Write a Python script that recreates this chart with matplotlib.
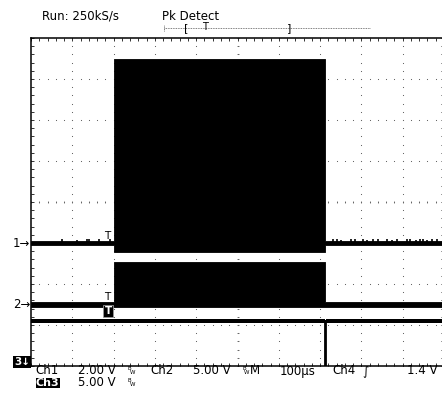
import numpy as np
import matplotlib
matplotlib.use('Agg')
import matplotlib.pyplot as plt
import matplotlib.transforms as mtrans

W, H = 442, 394

# scope settings
time_div = 100.0          # us / div
rec_len = 2000.0          # us, whole record
win_start = 212.0         # us, start of screen window in record
trig_t = 184.0            # us, trigger point on screen
ch1_vdiv, ch2_vdiv, ch3_vdiv = 2.0, 5.0, 5.0
ch1_pos, ch2_pos, ch3_pos = -1.0, -2.5, -4.1   # ground position, divisions

# peak-detect envelopes: segment start times (us), min/max volts per segment
ch1_t = [0, 200, 712, 1050]
ch1_lo = [-0.1, -0.44, -0.1]
ch1_hi = [0.1, 8.98, 0.1]
ch1_glitch_t = [75, 111, 135, 141, 165, 191, 731, 741, 750, 775, 785, 804, 814,
                828, 840, 862, 874, 886, 911, 917, 932, 942, 949, 959, 971, 983]
ch1_glitch_v = [0.2, 0.15, 0.2, 0.2, 0.2, 0.2, 0.2, 0.2, 0.15, 0.2, 0.2, 0.2, 0.15,
                0.2, 0.2, 0.2, 0.15, 0.2, 0.2, 0.2, 0.15, 0.2, 0.2, 0.15, 0.2, 0.2]

ch2_t = [0, 200, 712, 1050]
ch2_lo = [-0.25, -0.25, -0.25]
ch2_hi = [0.25, 5.2, 0.25]

# ch3: steady level with one narrow negative glitch
ch3_t = [0, 713, 715, 1050]
ch3_v = [6.0, 0.0, 6.0]


def steps(t, v):
  xs, ys = [], []
  for i in range(len(v)):
    xs += [t[i], t[i + 1]]
    ys += [v[i], v[i]]
  return np.array(xs), np.array(ys)


def to_div(v, pos, vdiv):
  return pos + np.asarray(v) / vdiv


fig = plt.figure(figsize=(W / 100, H / 100), dpi=100)
fig.patch.set_facecolor('white')

# graticule axes: left 31px, top 38px, bottom 366px, 41.3px/div
ax = fig.add_axes([31 / W, (H - 366) / H, 413 / W, 328 / H])
ax.set_xlim(0, 10 * time_div)
ax.set_ylim(-4, 4)
ax.set_facecolor('white')

# dotted grid, dots every 1/5 div
dot_c = '#666666'
sub = np.arange(0, 10 * time_div + 1, time_div / 5)
subv = np.arange(-4, 4.001, 0.2)
for i in range(1, 10):
  ax.plot(np.full_like(subv, i * time_div), subv, ls='none', marker='s',
          ms=0.75, mew=0, color=dot_c, zorder=1)
for j in range(-3, 4):
  ax.plot(sub, np.full_like(sub, j), ls='none', marker='s',
          ms=0.75, mew=0, color=dot_c, zorder=1)
# center cross ticks
ax.plot(np.full_like(subv, 5 * time_div), subv, ls='none', marker='_',
        ms=1.6, mew=0.6, color=dot_c, zorder=1)
ax.plot(sub, np.zeros_like(sub), ls='none', marker='|',
        ms=1.6, mew=0.6, color=dot_c, zorder=1)

# border ticks
ax.set_xticks(sub)
ax.set_yticks(subv)
ax.tick_params(direction='in', length=2.3, width=0.7, color='#333333',
               top=True, bottom=True, left=True, right=True,
               labelbottom=False, labelleft=False)
for s in ['left', 'top', 'bottom', 'right']:
  ax.spines[s].set_linewidth(1.1)
  ax.spines[s].set_color('black')

# Ch1
x, lo = steps(ch1_t, ch1_lo)
_, hi = steps(ch1_t, ch1_hi)
ax.fill_between(x, to_div(lo, ch1_pos, ch1_vdiv), to_div(hi, ch1_pos, ch1_vdiv),
                color='black', lw=0.6, zorder=3)
ax.vlines(ch1_glitch_t, ch1_pos, to_div(ch1_glitch_v, ch1_pos, ch1_vdiv),
          color='black', lw=1.2, zorder=3)

# Ch2
x, lo = steps(ch2_t, ch2_lo)
_, hi = steps(ch2_t, ch2_hi)
ax.fill_between(x, to_div(lo, ch2_pos, ch2_vdiv), to_div(hi, ch2_pos, ch2_vdiv),
                color='black', lw=0.6, zorder=3)

# Ch3
x, v = steps(ch3_t, ch3_v)
keep = v > 0
ax.fill_between(x, to_div(v - 0.25, ch3_pos, ch3_vdiv), to_div(v + 0.25, ch3_pos, ch3_vdiv),
                where=keep, color='black', lw=0, zorder=3)
ax.plot(x, to_div(v, ch3_pos, ch3_vdiv), color='black', lw=1.3, zorder=3)

# trigger markers on traces
fs = 8.5
ax.text(trig_t, to_div(0.1, ch1_pos, ch1_vdiv), 'T', ha='center', va='bottom',
        fontsize=7.5, zorder=4)
ax.text(trig_t, to_div(0.25, ch2_pos, ch2_vdiv), 'T', ha='center', va='bottom',
        fontsize=7.5, zorder=4)
ax.text(trig_t + 3, to_div(6.6, ch3_pos, ch3_vdiv), 'T', ha='center', va='bottom',
        fontsize=7.5, color='white', fontweight='bold', zorder=4,
        bbox=dict(facecolor='black', edgecolor='#999999', pad=0.9, lw=0.6))

# channel ground markers at left
tr = mtrans.blended_transform_factory(fig.transFigure, ax.transData)
ax.text(30.5 / W, ch1_pos, '1\u2192', transform=tr, ha='right', va='center',
        fontsize=fs, clip_on=False)
ax.text(30.5 / W, ch2_pos, '2\u2192', transform=tr, ha='right', va='center',
        fontsize=fs, clip_on=False)
fig.text(14 / W, 1 - 362 / H, '3\u2193', ha='left', va='center', fontsize=7.5,
         color='white', fontweight='bold',
         bbox=dict(facecolor='black', edgecolor='none', pad=0.6))

# header
fig.text(42 / W, 1 - 16 / H, 'Run: 250kS/s', ha='left', va='center', fontsize=fs)
fig.text(162 / W, 1 - 16 / H, 'Pk Detect', ha='left', va='center', fontsize=fs)

# record bar
axr = fig.add_axes([164 / W, 1 - 34 / H, 207 / W, 12 / H])
axr.set_xlim(0, rec_len)
axr.set_ylim(-1, 1)
axr.axis('off')
axr.plot([0, rec_len], [0, 0], ls=(0, (1, 1)), lw=0.6, color='#555555')
axr.vlines([0, rec_len], -0.5, 0.5, lw=0.6, color='#555555', linestyles=(0, (1, 1)))
axr.text(win_start, 0, '[', ha='center', va='center', fontsize=8)
axr.text(win_start + 10 * time_div, 0, ']', ha='center', va='center', fontsize=8)
axr.text(win_start + trig_t, 0.2, 'T', ha='center', va='center', fontsize=7)

# bottom readout
y1 = 1 - 371 / H
y2 = 1 - 383 / H
fig.text(35 / W, y1, 'Ch1', fontsize=fs, va='center')
fig.text(78 / W, y1, '2.00 V', fontsize=fs, va='center')
fig.text(150 / W, y1, 'Ch2', fontsize=fs, va='center')
fig.text(193 / W, y1, '5.00 V', fontsize=fs, va='center')
fig.text(250 / W, y1, 'M', fontsize=fs, va='center')
fig.text(280 / W, y1, '100\u00b5s', fontsize=fs, va='center')
fig.text(332 / W, y1, 'Ch4', fontsize=fs, va='center')
fig.text(362 / W, y1, '\u222b', fontsize=fs, va='center')
fig.text(407 / W, y1, '1.4 V', fontsize=fs, va='center')
fig.text(36 / W, y2, 'Ch3', fontsize=8, va='center', color='white', fontweight='bold',
         bbox=dict(facecolor='black', edgecolor='none', pad=0.1))
fig.text(78 / W, y2, '5.00 V', fontsize=fs, va='center')
for bx, by in [(128, 371), (242, 371), (128, 383)]:
  fig.text(bx / W, 1 - (by - 2) / H, 'B', fontsize=4, va='center')
  fig.text((bx + 2) / W, 1 - (by + 2) / H, 'W', fontsize=4, va='center')

fig.savefig('out.png', dpi=100)
